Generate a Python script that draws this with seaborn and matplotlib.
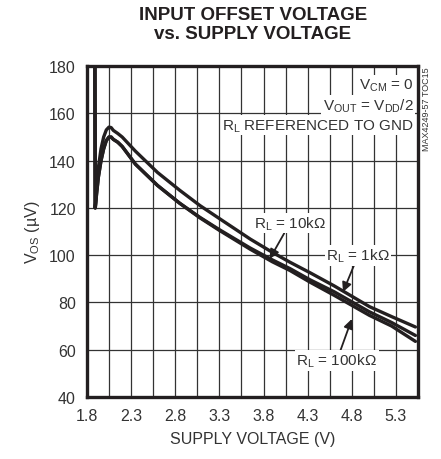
import numpy as np
import pandas as pd
import matplotlib
matplotlib.use("Agg")
import matplotlib.pyplot as plt
import seaborn as sns

sns.set_style("white")
plt.rcParams["font.family"] = ["Liberation Sans", "DejaVu Sans"]
plt.rcParams["mathtext.fontset"] = "custom"
plt.rcParams["mathtext.rm"] = "Liberation Sans"

# ----------------------------------------------------------------------
# data (supply voltage in V, offset in uV)
# ----------------------------------------------------------------------
supply_v = [1.89, 1.895, 1.91, 1.93, 1.96, 1.99, 2.02, 2.05, 2.075, 2.1, 2.15,
            2.2, 2.35, 2.6, 2.85, 3.08, 3.3, 3.65, 3.9, 4.1, 4.33, 4.6, 5.0,
            5.25, 5.52]
vos_1k = [190, 120, 129, 137, 145, 150, 153, 154.2, 154, 152.8, 151.5,
          150, 144, 135, 127.5, 121, 115.5, 106.8, 101.2, 97, 92.5, 87, 78.2,
          74, 69.6]
vos_10k = [190, 120, 126, 133, 140, 145, 148.5, 150, 150, 149, 147.8,
           146, 138.5, 129.5, 122, 116, 110.8, 103, 98, 94.3, 89.5, 84.5,
           76, 71.5, 66]
vos_100k = [190, 120, 126, 133, 140, 145, 148.5, 150, 150, 149, 147.8,
            146, 138.5, 129.5, 122, 115.8, 110.5, 102.5, 97.2, 93.5, 88.5, 83,
            74.5, 70, 63.5]

x_ticks = [1.8, 2.3, 2.8, 3.3, 3.8, 4.3, 4.8, 5.3]
y_ticks = [40, 60, 80, 100, 120, 140, 160, 180]

ink = "#231f20"
grey = "#333333"

fig = plt.figure(figsize=(4.41, 4.60), dpi=100)
ax = fig.add_axes([0.197, 0.135, 0.751, 0.719])

for vals in (vos_1k, vos_10k, vos_100k):
    sns.lineplot(x=supply_v, y=vals, ax=ax, color=ink, linewidth=2.4,
                 estimator=None, sort=False, zorder=3)

ax.set_xlim(1.8, 5.55)
ax.set_ylim(40, 180)
ax.set_xticks(x_ticks)
ax.set_xticks(np.arange(2.05, 5.55, 0.5), minor=True)
ax.set_yticks(y_ticks)
ax.set_xticklabels([f"{t:.1f}" for t in x_ticks])
ax.tick_params(which="both", length=0, labelsize=11.5, colors=grey, pad=8)
ax.grid(True, which="both", color=grey, linewidth=0.9)
for s in ax.spines.values():
    s.set_linewidth(2.4)
    s.set_color(ink)

ax.set_xlabel("SUPPLY VOLTAGE (V)", fontsize=11.5, color=grey, labelpad=6)
ax.set_ylabel("V$_{\\mathregular{OS}}$ (\u00b5V)", fontsize=11.5, color=grey, labelpad=5)

fig.text(0.573, 0.985, "INPUT OFFSET VOLTAGE\nvs. SUPPLY VOLTAGE", ha="center",
         va="top", fontsize=13.5, fontweight="bold", color=ink, linespacing=1.15)

box = dict(facecolor="white", edgecolor="none", pad=1.0)
ax.text(5.5, 172, "V$_{\\mathregular{CM}}$ = 0", ha="right", va="center",
        fontsize=11, color=grey, bbox=box)
ax.text(5.5, 163.5, "V$_{\\mathregular{OUT}}$ = V$_{\\mathregular{DD}}$/2", ha="right",
        va="center", fontsize=11, color=grey, bbox=box)
ax.text(5.5, 155, "R$_{\\mathregular{L}}$ REFERENCED TO GND", ha="right", va="center",
        fontsize=11, color=grey, bbox=box)

arrow = dict(arrowstyle="-|>", color=ink, lw=1.3, mutation_scale=14,
             shrinkA=0, shrinkB=0)
ax.annotate("R$_{\\mathregular{L}}$ = 10k\u03a9", xy=(3.87, 98.4), xytext=(4.1, 113.6),
            ha="center", va="center", fontsize=11, color=grey,
            bbox=box, arrowprops=arrow, zorder=4)
ax.annotate("R$_{\\mathregular{L}}$ = 1k\u03a9", xy=(4.70, 84.4), xytext=(4.87, 99.8),
            ha="center", va="center", fontsize=11, color=grey,
            bbox=box, arrowprops=arrow, zorder=4)
ax.annotate("R$_{\\mathregular{L}}$ = 100k\u03a9", xy=(4.80, 73), xytext=(4.63, 55.4),
            ha="center", va="center", fontsize=11, color=grey,
            bbox=box, arrowprops=arrow, zorder=4)

fig.text(0.968, 0.762, "MAX4249-57 TOC15", rotation=90, ha="center", va="center",
         fontsize=6.5, color=grey)

fig.savefig("out.png", dpi=100)
